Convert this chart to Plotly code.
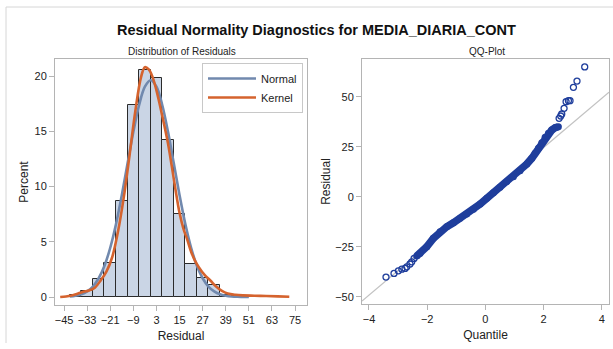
import plotly.graph_objects as go

# ---- histogram of residuals (bin midpoints, percent of observations) ----
bin_mid = [-39, -33, -27, -21, -15, -9, -3, 3, 9, 15, 21, 27, 33, 39, 45, 51, 57, 63]
bin_pct = [0.15, 0.57, 1.65, 3.07, 8.7, 17.4, 20.5, 19.8, 14.2, 7.5, 3.0, 1.7, 1.1,
           0.15, 0.1, 0.05, 0.05, 0.05]
bin_width = 6

# ---- fitted normal density (percent scale) ----
normal_x = [-42, -39, -36, -33, -30, -27, -24, -21, -18, -15, -12, -9, -6, -3, 0,
            3, 6, 9, 12, 15, 18, 21, 24, 27, 30, 33, 36, 39, 42, 45, 48, 51]
normal_y = [0.05, 0.12, 0.25, 0.51, 0.95, 1.70, 2.83, 4.46, 6.61, 9.22, 12.10, 14.95,
            17.38, 19.04, 19.62, 19.04, 17.38, 14.95, 12.10, 9.22, 6.61, 4.46, 2.83,
            1.70, 0.95, 0.51, 0.25, 0.12, 0.05, 0.02, 0.01, 0.0]

# ---- kernel density estimate (percent scale) ----
kernel_x = [-47, -44, -41, -38, -35, -32, -29, -26, -23, -20, -17, -14, -11, -8, -5,
            -3, -1, 1, 3, 5, 7, 9, 11, 13, 15, 17, 19, 21, 23, 25, 28, 31, 34, 37,
            40, 44, 48, 54, 60, 66, 72]
kernel_y = [0.0, 0.05, 0.15, 0.3, 0.48, 0.6, 0.85, 1.5, 2.3, 3.6, 5.9, 9.0, 12.8,
            16.8, 19.9, 20.8, 20.6, 19.9, 18.7, 17.2, 15.6, 13.9, 11.8, 9.6, 7.6,
            6.2, 5.2, 4.1, 3.3, 2.7, 2.0, 1.5, 0.95, 0.55, 0.32, 0.2, 0.15, 0.12,
            0.09, 0.06, 0.03]

# ---- QQ plot: normal quantile vs ordered residual ----
qq_band_q = [-2.36, -2.245, -2.015, -1.788, -1.558, -1.327, -1.10, -0.87, -0.64,
             -0.41, -0.18, 0.048, 0.275, 0.505, 0.736, 0.963, 1.193, 1.424, 1.595,
             1.709, 1.823, 1.94, 2.053, 2.167, 2.283, 2.40, 2.51]
qq_band_r = [-29.6, -28.3, -25.0, -20.8, -17.5, -15.0, -13.0, -10.8, -8.65, -6.3,
             -3.65, -0.8, 2.0, 4.7, 7.5, 10.0, 13.0, 16.35, 19.2, 21.7, 24.2, 27.0,
             29.7, 31.7, 33.35, 34.5, 35.0]
qq_tail_q = [-3.415, -3.14, -2.99, -2.87, -2.76, -2.70, -2.59, -2.53, -2.45,
             2.535, 2.59, 2.626, 2.706, 2.775, 2.855, 2.91, 3.027, 3.15, 3.415]
qq_tail_r = [-40.15, -38.3, -37.0, -36.2, -35.8, -35.0, -33.6, -32.5, -30.8,
             39.2, 40.35, 41.35, 44.2, 47.5, 48.0, 48.0, 54.7, 57.8, 64.9]

# reference line: residual = mu + sigma * quantile
ref_mu = 0.0
ref_sigma = 12.3
ref_q = [-4.24, 4.25]

hist_ticks = [-45, -33, -21, -9, 3, 15, 27, 39, 51, 63, 75]
pct_ticks = [0, 5, 10, 15, 20]
quant_ticks = [-4, -2, 0, 2, 4]
resid_ticks = [-50, -25, 0, 25, 50]

FONT = "Liberation Sans, Arial, sans-serif"
BAR_FILL = "#cad5e5"
NORMAL_C = "#7189ae"
KERNEL_C = "#d5632e"
MARK_C = "#1f3e9c"
FRAME_C = "#b4b4b4"

fig = go.Figure()

fig.add_trace(go.Bar(
    x=bin_mid, y=bin_pct, width=bin_width,
    marker=dict(color=BAR_FILL, line=dict(color="#2b2b2b", width=1)),
    showlegend=False, xaxis="x", yaxis="y"))

fig.add_trace(go.Scatter(
    x=normal_x, y=normal_y, mode="lines", name="Normal",
    line=dict(color=NORMAL_C, width=2.6, shape="spline"),
    xaxis="x", yaxis="y"))

fig.add_trace(go.Scatter(
    x=kernel_x, y=kernel_y, mode="lines", name="Kernel",
    line=dict(color=KERNEL_C, width=2.6, shape="spline"),
    xaxis="x", yaxis="y"))

fig.add_trace(go.Scatter(
    x=ref_q, y=[ref_mu + ref_sigma * q for q in ref_q], mode="lines",
    line=dict(color="#c2c2c2", width=1.2), showlegend=False,
    xaxis="x2", yaxis="y2"))

# dense middle of the QQ cloud: overlapping markers form a solid band
fig.add_trace(go.Scatter(
    x=qq_band_q, y=qq_band_r, mode="lines+markers",
    line=dict(color=MARK_C, width=7.5),
    marker=dict(symbol="circle", size=7, color=MARK_C),
    showlegend=False, xaxis="x2", yaxis="y2"))

fig.add_trace(go.Scatter(
    x=qq_tail_q, y=qq_tail_r, mode="markers",
    marker=dict(symbol="circle-open", size=6, color=MARK_C, line=dict(width=1.3)),
    showlegend=False, xaxis="x2", yaxis="y2"))

axis_common = dict(
    showline=True, mirror=True, linecolor=FRAME_C, linewidth=1,
    ticks="outside", ticklen=5, tickcolor=FRAME_C, showgrid=False, zeroline=False,
    tickfont=dict(family=FONT, size=11, color="#222222"),
    title_font=dict(family=FONT, size=12, color="#222222"),
)

fig.update_layout(
    width=613, height=349,
    margin=dict(l=0, r=0, t=0, b=0),
    paper_bgcolor="white", plot_bgcolor="white",
    bargap=0,
    font=dict(family=FONT, color="#222222"),
    xaxis=dict(domain=[55 / 613, 307 / 613], range=[-49.7, 81.2],
               tickvals=hist_ticks, title=dict(text="Residual", standoff=6),
               anchor="y", **axis_common),
    yaxis=dict(domain=[44 / 349, 290 / 349], range=[-0.72, 21.54],
               tickvals=pct_ticks, title=dict(text="Percent", standoff=3),
               anchor="x", **axis_common),
    xaxis2=dict(domain=[362 / 613, 609 / 613], range=[-4.24, 4.25],
                tickvals=quant_ticks, title=dict(text="Quantile", standoff=6),
                anchor="y2", **axis_common),
    yaxis2=dict(domain=[45 / 349, 290 / 349], range=[-53.6, 68.85],
                tickvals=resid_ticks, title=dict(text="Residual", standoff=1),
                anchor="x2", **axis_common),
    legend=dict(x=303 / 613, y=1 - 63 / 349, xanchor="right", yanchor="top",
                bordercolor="#c8c8c8", borderwidth=1, bgcolor="white",
                font=dict(family=FONT, size=11, color="#222222"),
                itemwidth=48, tracegroupgap=0),
    annotations=[
        dict(text="<b>Residual Normality Diagnostics for MEDIA_DIARIA_CONT</b>",
             x=316 / 613, y=1 - 30 / 349, xref="paper", yref="paper",
             xanchor="center", yanchor="middle", showarrow=False,
             font=dict(family=FONT, size=14.5, color="#111111")),
        dict(text="Distribution of Residuals", x=182 / 613, y=1 - 51 / 349,
             xref="paper", yref="paper", xanchor="center", yanchor="middle",
             showarrow=False, font=dict(family=FONT, size=10, color="#222222")),
        dict(text="QQ-Plot", x=487 / 613, y=1 - 51 / 349,
             xref="paper", yref="paper", xanchor="center", yanchor="middle",
             showarrow=False, font=dict(family=FONT, size=10, color="#222222")),
    ],
    shapes=[
        dict(type="line", xref="paper", yref="paper", x0=6 / 613, x1=1,
             y0=1 - 7 / 349, y1=1 - 7 / 349, line=dict(color="#d6d6d6", width=1)),
        dict(type="line", xref="paper", yref="paper", x0=6 / 613, x1=6 / 613,
             y0=1 - 7 / 349, y1=1 - 343 / 349, line=dict(color="#d6d6d6", width=1)),
    ],
)

fig.write_html("out.html")
